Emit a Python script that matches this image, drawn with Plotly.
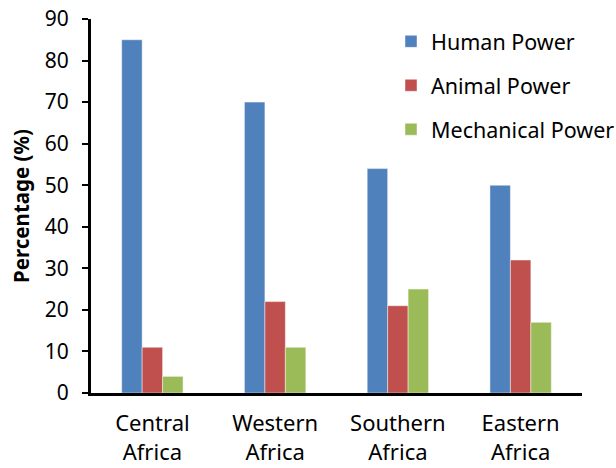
import plotly.graph_objects as go

categories = ["Central<br>Africa", "Western<br>Africa", "Southern<br>Africa", "Eastern<br>Africa"]
human_power = [85, 70, 54, 50]
animal_power = [11, 22, 21, 32]
mechanical_power = [4, 11, 25, 17]
y_ticks = [0, 10, 20, 30, 40, 50, 60, 70, 80, 90]

series = [
    ("Human Power", human_power, "#4F81BD"),
    ("Animal Power", animal_power, "#C0504D"),
    ("Mechanical Power", mechanical_power, "#9BBB59"),
]

FONT = "Noto Sans"

fig = go.Figure()
for i, (name, vals, color) in enumerate(series):
    fig.add_trace(go.Bar(
        name=name, x=categories, y=vals,
        marker=dict(color=color, line=dict(color="rgba(255,255,255,0.45)", width=1)),
        legendgroup=f"g{i}",
    ))

fig.update_layout(
    width=616, height=468,
    margin=dict(l=91, r=34, t=19, b=75, autoexpand=False),
    paper_bgcolor="white", plot_bgcolor="white",
    barmode="group", bargap=0.5, bargroupgap=0,
    font=dict(family=FONT, size=21, color="black"),
    showlegend=True,
    legend=dict(
        x=0.611, y=0.995, xanchor="left", yanchor="top",
        traceorder="grouped", tracegroupgap=13,
        font=dict(family=FONT, size=21.5, color="black"),
        bgcolor="rgba(0,0,0,0)",
    ),
    xaxis=dict(
        showline=True, linecolor="black", linewidth=3,
        ticks="", showgrid=False, tickfont=dict(size=22),
        automargin=False, ticklabelstandoff=9,
    ),
    yaxis=dict(
        range=[0, 90], tickvals=y_ticks,
        showline=True, linecolor="black", linewidth=3,
        ticks="outside", ticklen=6, tickwidth=2, tickcolor="black",
        showgrid=False, zeroline=False, automargin=False,
        ticklabelstandoff=9, ticklabeloverflow="allow",
        title=dict(text="<b>Percentage (%)</b>", font=dict(size=20.5), standoff=10),
        tickfont=dict(size=21),
    ),
)

# remove the browser's default 8px body margin so the figure sits at the page's top-left corner
fig.write_html("out.html", config={"displayModeBar": False},
               post_script="document.body.style.margin='0px';")
